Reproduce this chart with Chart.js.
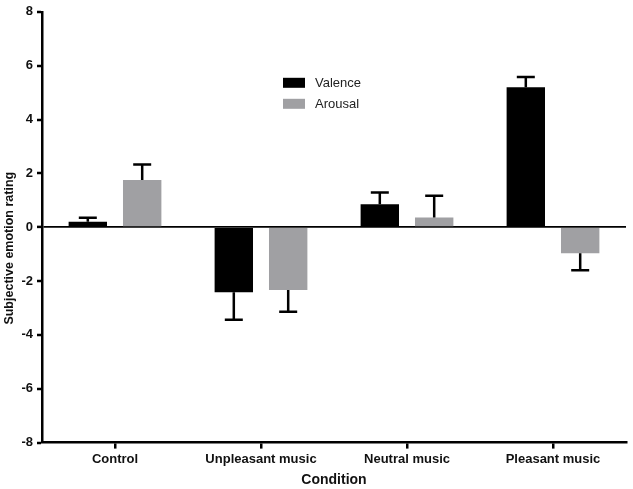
<!DOCTYPE html>
<html>
<head>
<meta charset="utf-8">
<script src="https://cdn.jsdelivr.net/npm/chart.js@4.4.1/dist/chart.umd.min.js"></script>
<style>
  html, body { margin: 0; padding: 0; background: #fff; }
  #wrap { width: 633px; height: 489px; }
</style>
</head>
<body>
<div id="wrap"><canvas id="c" width="633" height="489"></canvas></div>
<script>
const categories = ['Control', 'Unpleasant music', 'Neutral music', 'Pleasant music'];
const valence = [0.2, -2.42, 0.85, 5.2];
const arousal = [1.75, -2.33, 0.36, -0.97];
const valenceSem = [0.15, 1.02, 0.44, 0.38];
const arousalSem = [0.58, 0.81, 0.81, 0.63];
const yTicks = [-8, -6, -4, -2, 0, 2, 4, 6, 8];
const yTitle = 'Subjective emotion rating';

const FONT = "'Liberation Sans', Arial, Helvetica, sans-serif";

const errorBars = {
  id: 'errorBars',
  afterDatasetsDraw(chart) {
    const ctx = chart.ctx;
    const y = chart.scales.y;
    chart.data.datasets.forEach((ds, di) => {
      const meta = chart.getDatasetMeta(di);
      meta.data.forEach((bar, i) => {
        const v = ds.data[i];
        const e = ds.sem[i];
        const end = v >= 0 ? v + e : v - e;
        const y0 = y.getPixelForValue(v);
        const y1 = y.getPixelForValue(end);
        ctx.save();
        ctx.strokeStyle = '#000';
        ctx.lineWidth = 2.5;
        ctx.beginPath();
        ctx.moveTo(bar.x, y0);
        ctx.lineTo(bar.x, y1);
        ctx.moveTo(bar.x - 9, y1);
        ctx.lineTo(bar.x + 9, y1);
        ctx.stroke();
        ctx.restore();
      });
    });
  }
};

const innerLegend = {
  id: 'innerLegend',
  afterDraw(chart) {
    const ctx = chart.ctx;
    const a = chart.chartArea;
    const x0 = a.left + 241;
    const y0 = a.top + 66;
    ctx.save();
    chart.data.datasets.forEach((ds, i) => {
      const yy = y0 + i * 21;
      ctx.fillStyle = ds.backgroundColor;
      ctx.fillRect(x0, yy, 22, 10);
      ctx.fillStyle = '#222';
      ctx.font = "13px " + FONT;
      ctx.textBaseline = 'middle';
      ctx.fillText(ds.label, x0 + 32, yy + 5.5);
    });
    ctx.restore();
  }
};

const yTitlePlugin = {
  id: 'yTitlePlugin',
  afterDraw(chart) {
    const ctx = chart.ctx;
    const a = chart.chartArea;
    const cy = (a.top + a.bottom) / 2 + 21;
    ctx.save();
    ctx.translate(10, cy);
    ctx.rotate(-Math.PI / 2);
    ctx.fillStyle = '#111';
    ctx.font = "bold 12.5px " + FONT;
    ctx.textAlign = 'center';
    ctx.textBaseline = 'middle';
    ctx.fillText(yTitle, 0, 0);
    ctx.restore();
  }
};

new Chart(document.getElementById('c'), {
  type: 'bar',
  data: {
    labels: categories,
    datasets: [
      { label: 'Valence', data: valence, sem: valenceSem, backgroundColor: '#000000',
        categoryPercentage: 0.745, barPercentage: 0.706 },
      { label: 'Arousal', data: arousal, sem: arousalSem, backgroundColor: '#a0a0a3',
        categoryPercentage: 0.745, barPercentage: 0.706 }
    ]
  },
  options: {
    responsive: false,
    animation: false,
    layout: { padding: { top: 3, right: 7, bottom: 0, left: 19 } },
    plugins: {
      legend: { display: false },
      tooltip: { enabled: false }
    },
    scales: {
      x: {
        grid: { display: true, drawOnChartArea: false, offset: false, tickLength: 6, tickColor: '#000', lineWidth: 2.5 },
        border: { display: true, color: '#000', width: 2.5 },
        ticks: { color: '#111', font: { family: FONT, size: 13, weight: 'bold' }, padding: 3 },
        title: { display: true, text: 'Condition', color: '#111', font: { family: FONT, size: 14, weight: 'bold' }, padding: { top: 2, bottom: 0 } }
      },
      y: {
        min: -8, max: 8,
        afterBuildTicks(scale) { scale.ticks = yTicks.map(v => ({ value: v })); },
        afterFit(scale) { scale.width = 23; },
        grid: {
          drawOnChartArea: true,
          color: c => (c.tick && c.tick.value === 0) ? '#000' : 'rgba(0,0,0,0)',
          lineWidth: c => (c.tick && c.tick.value === 0) ? 1.8 : 0,
          tickColor: '#000', tickLength: 5, tickWidth: 2.5
        },
        border: { display: true, color: '#000', width: 2.5 },
        ticks: { color: '#111', font: { family: FONT, size: 13, weight: 'bold' }, padding: 4 },
        title: { display: false }
      }
    }
  },
  plugins: [errorBars, innerLegend, yTitlePlugin]
});
</script>
</body>
</html>
